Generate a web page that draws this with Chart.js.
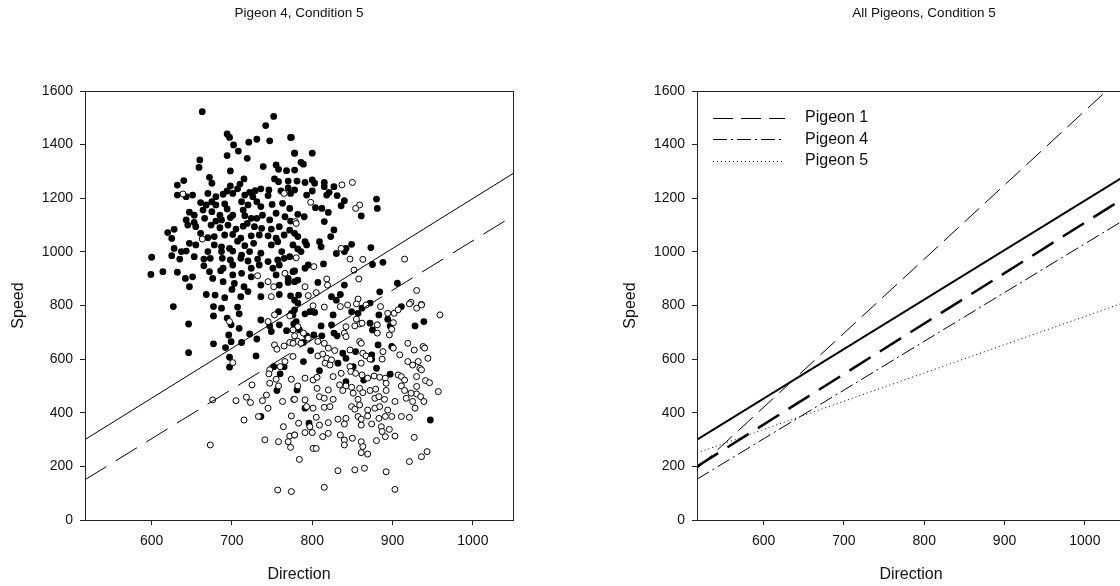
<!DOCTYPE html>
<html>
<head>
<meta charset="utf-8">
<script src="https://cdn.jsdelivr.net/npm/chart.js@4"></script>
<style>
html, body { margin: 0; padding: 0; background: #fff; overflow: hidden; width: 1120px; height: 586px; }
.panel { position: absolute; top: 0; height: 586px; }
#leftWrap { left: 0; width: 596px; }
#rightWrap { left: 612px; width: 624px; }
</style>
</head>
<body>
<div class="panel" id="leftWrap"><canvas id="pigeonChart"></canvas></div>
<div class="panel" id="rightWrap"><canvas id="allChart"></canvas></div>
<script>
// Axis ranges and tick labels
const dirRange = [517, 1050];
const dirTicks = [600, 700, 800, 900, 1000];
const speedTicks = [0, 200, 400, 600, 800, 1000, 1200, 1400, 1600];

// Pigeon 4, condition 5: trials (direction, speed), filled = one response, open = the other
const filledPts = [
  [663,1523],[752,1505],[742,1471],[694,1440],[697,1427],[773,1427],[721,1409],[731,1420],[747,1414],[702,1399],[708,1376],[694,1359],[719,1349],[778,1368],[660,1343],[659,1315],[739,1318],[755,1324],[758,1308],[698,1302],[768,1303],[778,1305],
  [640,1266],[632,1249],[672,1278],[675,1256],[715,1272],[710,1253],[698,1246],[707,1235],[694,1227],[701,1218],[722,1222],[729,1228],[736,1235],[746,1231],[753,1272],[758,1262],[770,1264],[770,1239],[761,1227],
  [632,1212],[643,1206],[651,1212],[670,1218],[680,1206],[689,1215],[716,1212],[726,1206],[745,1210],[773,1218],
  [661,1184],[668,1175],[675,1187],[680,1175],[691,1179],[694,1160],[712,1187],[720,1175],[731,1187],[736,1169],[750,1177],[763,1181],[772,1162],[714,1156],[664,1156],[675,1150],[685,1137],[701,1137],
  [647,1148],[653,1137],[643,1119],[653,1110],[666,1125],[680,1115],[687,1119],[698,1128],[716,1135],[724,1125],[719,1106],[731,1125],[738,1137],[747,1119],[755,1144],[766,1131],[773,1115],
  [645,1100],[655,1094],[674,1100],[685,1090],[695,1100],[705,1085],[714,1096],[728,1094],[737,1088],[749,1085],[759,1094],[772,1081],[620,1072],[628,1084],[661,1069],[670,1053],[678,1057],[691,1063],[701,1065],[711,1051],[724,1060],[734,1063],[745,1060],[755,1051],[765,1063],
  [625,1050],[647,1032],[655,1026],[678,1026],[687,1019],[697,1013],[707,1040],[716,1023],[727,1032],[749,1026],[757,1038],[776,1026],[628,1013],[637,1001],[643,1003],[670,1001],[687,1001],[701,1003],[712,988],[722,1001],[736,995],[762,1001],[772,982],
  [600,980],[625,986],[635,973],[653,982],[665,973],[673,976],[688,976],[698,970],[711,976],[720,966],[732,973],[745,964],[757,970],[765,976],[665,948],[689,939],[701,951],[724,939],[734,951],[751,939],[759,951],
  [599,916],[614,926],[632,924],[642,901],[651,907],[672,926],[686,930],[701,914],[712,920],[724,907],[676,901],[776,926],[770,901],[755,914],
  [647,870],[689,889],[703,882],[715,870],[736,876],[759,876],[770,886],[668,841],[679,839],[691,829],[700,860],[711,833],[720,852],[736,833],[759,841],[773,836],
  [774,1427],[778,1368],[800,1368],[786,1334],[789,1327],[781,1264],[791,1259],[800,1268],[803,1256],[815,1259],[815,1243],[827,1243],[778,1231],[793,1212],[800,1227],[818,1212],[821,1222],[831,1210],[840,1191],[836,1172],[880,1197],[881,1162],[861,1134],[804,1165],[812,1162],[820,1147],[782,1140],[790,1131],[815,1113],[827,1082],[823,1057],[778,1069],[782,1057],[791,1038],[793,1026],[809,1038],[811,1019],[782,1011],[786,1001],[849,1028],[842,1013],[840,1001],[830,994],[873,1016],[888,961],[875,953],[814,955],[795,951],[791,939],[778,929],[782,895],[778,889],[807,886],[840,876],[884,851],[906,883],[824,833],[830,820],[835,841],[783,839],[778,820],
  [627,796],[646,731],[677,796],[677,761],[687,790],[707,794],[709,769],[694,753],[699,728],[709,715],[696,690],[699,665],[677,657],[692,643],[712,662],[722,694],[731,675],[736,746],[747,724],[749,703],[758,777],[759,728],[768,706],[774,771],[777,731],[646,624],[697,607],[697,570],[730,612],[752,572],[760,545],[756,483],[736,386],[765,572],
  [778,784],[776,765],[780,740],[791,769],[797,777],[803,774],[782,809],[784,709],[793,687],[789,662],[811,724],[802,690],[812,687],[826,765],[824,728],[827,697],[831,687],[849,777],[857,771],[862,790],[872,734],[883,765],[894,749],[911,796],[875,709],[897,724],[928,724],[939,740],[798,632],[838,622],[842,603],[854,628],[851,572],[874,616],[874,600],[882,653],[899,647],[880,566],[897,544],[832,585],[809,557],[789,591],[842,516],[864,522],[781,485],[791,417],[796,361],[947,373],[872,809]
];
const openPts = [
  [639,1216],[765,1218],[779,1113],[663,1048],[732,911],[745,889],[766,920],[752,870],[749,833],
  [837,1250],[850,1259],[798,1185],[859,1175],[854,1162],[780,1106],[780,978],[802,945],[836,1013],[847,973],[863,972],[915,973],[852,932],[858,899],[791,870],[818,899],[819,876],[805,848],[795,837],[930,856],[857,824],[923,812],[936,804],
  [697,740],[745,740],[753,765],[772,761],[753,653],[756,637],[765,649],[772,662],[777,665],[701,587],[766,591],[760,572],[747,560],[746,545],[755,525],[774,525],[747,510],[758,500],[725,504],[676,448],[705,445],[718,458],[723,438],[743,466],[738,445],[745,417],[763,442],[777,450],[733,386],[715,373],[774,388],[764,348],[772,313],[770,292],[773,271],[741,299],[758,292],[778,317],[673,280],[757,112],[774,106],
  [801,799],[815,794],[835,796],[844,802],[855,806],[867,802],[885,796],[902,771],[894,771],[907,784],[921,806],[930,790],[936,802],[959,765],
  [855,749],[859,731],[853,724],[862,734],[881,728],[901,736],[899,711],[842,721],[782,721],[776,709],[789,697],[778,687],
  [840,697],[842,684],[859,666],[861,659],[881,697],[896,690],[919,659],[927,634],[938,647],[940,641],[782,666],[786,659],[795,678],[807,666],[815,659],[820,641],[776,659],
  [807,612],[813,619],[818,603],[824,597],[816,585],[828,632],[847,634],[863,622],[867,612],[872,600],[888,628],[887,600],[901,641],[909,616],[919,591],[925,578],[932,591],[944,603],[934,566],[776,610],[822,578],[861,585],
  [791,529],[801,522],[806,532],[826,535],[836,547],[847,572],[848,554],[854,547],[862,541],[869,529],[877,537],[884,532],[891,529],[892,510],[907,541],[911,535],[915,522],[930,535],[941,520],[946,512],[936,560],[834,504],[842,500],
  [782,500],[806,491],[820,485],[838,483],[849,495],[859,491],[863,475],[872,483],[879,488],[892,483],[911,500],[915,483],[930,498],[930,470],[935,460],[957,479],[778,450],[809,460],[815,454],[826,450],[851,473],[857,450],[878,454],[883,460],[890,450],[903,442],[917,454],[925,442],[939,442],[923,473],
  [791,448],[793,423],[801,417],[815,420],[822,423],[849,423],[853,413],[859,429],[869,410],[878,417],[884,423],[894,410],[928,417],[899,386],[911,386],[921,383],[805,383],[832,376],[842,379],[857,386],[861,376],[869,388],[883,379],[891,386],[809,354],[820,363],[840,358],[861,354],[874,358],[886,348],[896,338],
  [783,361],[778,317],[791,326],[797,348],[800,326],[813,311],[820,323],[835,317],[840,298],[850,305],[840,280],[861,292],[863,274],[880,296],[887,330],[891,311],[903,313],[927,308],[861,251],[869,246],[801,267],[805,267],[784,226],[921,218],[936,236],[943,255],
  [832,184],[853,187],[865,193],[892,180],[815,122],[903,114]
];

// Fitted lines: speed at the two ends of dirRange
const p4Solid = [300, 1292];
const p4Dashed = [150, 1134];
const allSolid = [300, 1284];
const allDashed = [200, 1203];
const pigeon1 = [191, 1664];
const pigeon4 = [152, 1121];
const pigeon5 = [250, 812];
const legendNames = ['Pigeon 1', 'Pigeon 4', 'Pigeon 5'];

Chart.defaults.font.family = "'Liberation Sans', Arial, sans-serif";
Chart.defaults.color = '#111';

const toXY = pts => pts.map(p => ({ x: p[0], y: p[1] }));
const lineXY = ends => [{ x: dirRange[0], y: ends[0] }, { x: dirRange[1], y: ends[1] }];

function lineSet(label, ends, width, dash) {
    return {
        label: label,
        data: lineXY(ends),
        showLine: true,
        borderColor: '#000',
        borderWidth: width,
        borderDash: dash,
        pointRadius: 0,
        order: 0
    };
}

// box around the plotting area
const frameBox = {
    id: 'frameBox',
    afterDraw(chart) {
        const { ctx, chartArea: a } = chart;
        ctx.save();
        ctx.strokeStyle = '#222';
        ctx.lineWidth = 1;
        ctx.strokeRect(Math.round(a.left) + 0.5, Math.round(a.top) + 0.5,
            Math.round(a.right - a.left), Math.round(a.bottom - a.top));
        ctx.restore();
    }
};

// panel title, centred over the plot rather than the canvas
const panelTitle = {
    id: 'panelTitle',
    afterDraw(chart, args, opts) {
        const { ctx, chartArea: a } = chart;
        ctx.save();
        ctx.fillStyle = '#111';
        ctx.font = "13.5px 'Liberation Sans', Arial, sans-serif";
        ctx.textAlign = 'center';
        ctx.textBaseline = 'middle';
        ctx.fillText(opts.text, a.left + opts.offset, 13);
        ctx.restore();
    }
};

// legend drawn inside the plot, top left
const insideLegend = {
    id: 'insideLegend',
    afterDraw(chart) {
        const { ctx, chartArea: a } = chart;
        legendNames.forEach((name, i) => {
            const ds = chart.data.datasets.find(d => d.label === name);
            if (!ds) return;
            const y = a.top + 26.5 + i * 21.7;
            ctx.save();
            ctx.strokeStyle = '#000';
            ctx.lineWidth = 1;
            ctx.setLineDash(ds.borderDash || []);
            ctx.beginPath();
            ctx.moveTo(a.left + 16, Math.round(y) + 0.5);
            ctx.lineTo(a.left + 88, Math.round(y) + 0.5);
            ctx.stroke();
            ctx.setLineDash([]);
            ctx.fillStyle = '#111';
            ctx.font = "16px 'Liberation Sans', Arial, sans-serif";
            ctx.textBaseline = 'middle';
            ctx.fillText(name, a.left + 108, y);
            ctx.restore();
        });
    }
};

function makeOptions(titleText, titleOffset, rightPad) {
    return {
        responsive: true,
        maintainAspectRatio: false,
        animation: false,
        layout: { padding: { left: 0, right: rightPad, top: 91, bottom: 0 } },
        plugins: {
            legend: { display: false },
            tooltip: { enabled: false },
            title: { display: false },
            panelTitle: { text: titleText, offset: titleOffset }
        },
        scales: {
            x: {
                type: 'linear',
                min: dirRange[0],
                max: dirRange[1],
                afterBuildTicks: s => { s.ticks = dirTicks.map(v => ({ value: v })); },
                afterFit: s => { s.height = 66; },
                grid: { drawOnChartArea: false, tickLength: 5, color: '#222' },
                border: { color: '#222' },
                ticks: { font: { size: 14 }, padding: 8, callback: v => String(v) },
                title: { display: true, text: 'Direction', font: { size: 16 }, padding: { top: 0, bottom: 2 } }
            },
            y: {
                type: 'linear',
                min: 0,
                max: 1600,
                afterBuildTicks: s => { s.ticks = speedTicks.map(v => ({ value: v })); },
                afterFit: s => { s.width = 85; },
                grid: { drawOnChartArea: false, tickLength: 5, color: '#222' },
                border: { color: '#222' },
                ticks: { font: { size: 14 }, padding: 7, callback: v => String(v) },
                title: { display: true, text: 'Speed', font: { size: 16 }, padding: { top: 9, bottom: 0 } }
            }
        }
    };
}

// Left panel: one pigeon's trials and its two lines
new Chart(document.getElementById('pigeonChart').getContext('2d'), {
    type: 'scatter',
    data: {
        datasets: [
            lineSet('Solid', p4Solid, 1, []),
            lineSet('Dashed', p4Dashed, 1, [25, 11]),
            {
                label: 'Open',
                data: toXY(openPts),
                backgroundColor: '#fff',
                borderColor: '#000',
                borderWidth: 1,
                pointRadius: 3,
                order: 1
            },
            {
                label: 'Filled',
                data: toXY(filledPts),
                backgroundColor: '#000',
                borderColor: '#000',
                borderWidth: 0,
                pointRadius: 3.4,
                order: 2
            }
        ]
    },
    options: makeOptions('Pigeon 4, Condition 5', 214, 83),
    plugins: [frameBox, panelTitle]
});

// Right panel: lines for all pigeons
new Chart(document.getElementById('allChart').getContext('2d'), {
    type: 'scatter',
    data: {
        datasets: [
            lineSet('Overall', allSolid, 2, []),
            lineSet('Overall dashed', allDashed, 2.5, [25, 11]),
            lineSet('Pigeon 1', pigeon1, 1, [20, 8]),
            lineSet('Pigeon 4', pigeon4, 1, [14, 4, 2, 4]),
            lineSet('Pigeon 5', pigeon5, 1, [1, 3])
        ]
    },
    options: makeOptions('All Pigeons, Condition 5', 227, 111),
    plugins: [frameBox, panelTitle, insideLegend]
});
</script>
</body>
</html>
